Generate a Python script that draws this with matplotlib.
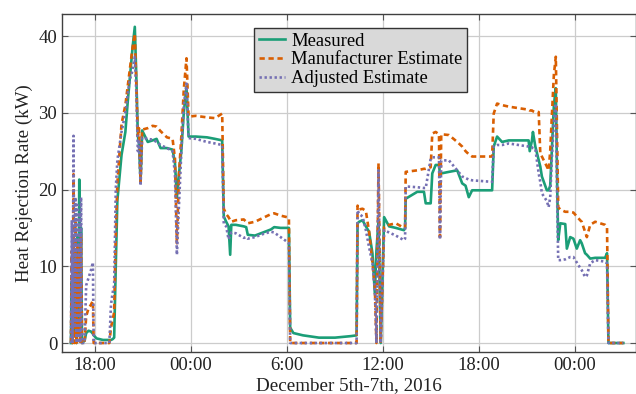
import numpy as np
import matplotlib
matplotlib.use('Agg')
import matplotlib.pyplot as plt

plt.rcParams['font.family'] = ['Liberation Serif', 'DejaVu Serif']

# hours counted from Dec 5th 00:00
hours = [
    16.50, 16.55, 16.60, 16.66, 16.72, 16.78, 16.84, 16.90, 16.96, 17.02,
    17.07, 17.13, 17.19, 17.35, 17.45, 17.60, 17.75, 17.87, 17.92, 18.10,
    18.50, 18.90, 19.00, 19.10, 19.20, 19.30, 19.40,
    19.66, 19.90, 20.05, 20.20, 20.35, 20.49, 20.58, 20.68, 20.75, 20.85,
    20.95, 21.30, 21.60, 21.85, 22.10, 22.50, 22.85, 23.00, 23.12, 23.25,
    23.40, 23.55, 23.72, 23.85, 24.30, 25.00, 25.50, 25.95, 26.05,
    26.20, 26.35, 26.45, 26.52, 26.80, 27.30, 27.45, 27.55, 28.00, 28.50,
    29.00, 29.20, 29.60, 30.00, 30.12, 30.20, 30.40,
    31.00, 32.00, 33.00, 34.00, 34.35, 34.41,
    34.51, 34.72, 34.93, 35.13, 35.34, 35.49, 35.59, 35.72, 35.86, 36.07,
    36.38, 36.80, 37.31, 37.38,
    37.42, 38.14, 38.56, 38.67, 38.98, 39.08, 39.29, 39.50, 39.56, 39.64,
    40.12, 40.64, 40.95, 41.16, 41.36, 41.57, 42.82, 42.92, 43.13, 43.44,
    43.86, 45.10, 45.17, 45.31, 45.37, 45.52, 45.73, 45.83, 45.93, 46.24, 46.35,
    46.45, 46.55, 46.68, 46.80, 46.89, 46.95, 47.08, 47.39, 47.49, 47.70,
    47.90, 48.11, 48.32, 48.42, 48.63, 48.74, 48.95, 49.26, 49.88, 50.00,
    50.09, 51.02,
]

measured = [
    0, 8, 0, 13, 1, 11, 0, 14, 2, 21.3,
    6, 15, 0, 0.3, 1.3, 1.6, 1.5, 1.2, 1.0, 0.6,
    0.4, 0.4, 0.4, 0.5, 0.7, 10, 18.6,
    24.5, 27.5, 31.5, 35, 38.5, 41.2, 35, 27, 26, 21.0,
    27.7, 26.2, 26.4, 26.6, 25.4, 25.4, 25.2, 23.4, 19.0, 22,
    25.1, 30, 33.4, 26.9, 26.9, 26.8, 26.6, 26.4, 16.5,
    15.8, 15.2, 11.5, 15.4, 15.4, 15.2, 15.1, 14.1, 14.0, 14.4,
    14.8, 15.1, 15.0, 15.0, 15.0, 2.0, 1.3,
    1.0, 0.7, 0.7, 0.9, 1.0, 15.6,
    15.8, 16.0, 15.2, 14.5, 11.7, 6.5, 12, 16, 0, 16.4,
    15.2, 15.0, 14.7, 15.0,
    18.8, 19.7, 19.7, 18.2, 18.2, 22.1, 23.2, 23.2, 22.0, 22.1,
    22.3, 22.5, 20.8, 20.5, 19.0, 19.9, 19.9, 25.6, 26.9, 26.2,
    26.4, 26.4, 25.0, 26.4, 27.5, 25.6, 23.8, 23.0, 21.7, 19.9, 19.9,
    20.5, 25, 31, 33.2, 20, 13.4, 15.6, 15.5, 12.3, 13.8,
    13.6, 12.3, 13.4, 13.0, 11.7, 11.5, 11.0, 11.1, 11.1, 11.7,
    0, 0,
]

manufacturer = [
    0, 12, 0, 22, 0, 16, 0, 13, 1, 12,
    0, 14, 0, 0, 3.5, 4.5, 5.0, 5.5, 0, 0,
    0, 0, 2, 3, 4, 14, 20.8,
    28.5, 31, 33.5, 36, 38.5, 40.3, 34, 27, 28, 21,
    27.8, 28.0, 28.3, 28.2, 27.6, 26.8, 26.6, 24, 13, 22,
    27, 33, 37.1, 29.5, 29.6, 29.4, 29.3, 29.9, 17.5,
    16.8, 16.4, 16.0, 15.8, 16.0, 16.1, 15.8, 15.6, 15.8, 16.3,
    16.8, 16.9, 16.6, 16.4, 16.3, 0, 0,
    0, 0, 0, 0, 0, 17.9,
    17.4, 17.5, 17.2, 14.5, 10.5, 7.3, 0, 23.4, 0, 15.1,
    15.4, 15.6, 15.0, 15.0,
    22.3, 22.5, 22.7, 22.7, 22.9, 27.3, 27.5, 27.2, 13.8, 27.2,
    27.1, 26.2, 25.6, 25.0, 24.6, 24.3, 24.3, 29.9, 31.2, 31.0,
    30.8, 30.4, 30.3, 30.3, 30.2, 30.1, 30.1, 24.7, 24.3, 23.0, 22.5,
    25, 29.5, 35, 37.3, 25, 17.7, 17.4, 17.1, 17.1, 17.1,
    17.0, 16.5, 16.0, 15.8, 14.5, 13.8, 15.4, 15.8, 15.4, 15.1,
    0, 0,
]

adjusted = [
    0, 16, 0, 27, 2, 19, 0, 18, 0, 17,
    0, 19, 0, 0, 7.5, 8.5, 9.5, 10.5, 0, 0,
    0, 0, 5, 6.5, 7.5, 20, 23.8,
    27.5, 30, 32.5, 34.5, 35.5, 37.3, 33, 25, 26.5, 20.5,
    26.8, 26.6, 26.5, 26.2, 25.8, 25.4, 25.0, 22, 11.5, 18,
    25, 31, 33.8, 26.7, 26.6, 26.2, 26.0, 25.8, 15.5,
    15.2, 13.5, 14.0, 14.4, 14.3, 13.7, 13.8, 13.6, 13.8, 14.2,
    14.5, 14.4, 13.8, 13.2, 13.0, 0, 0,
    0, 0, 0, 0, 0, 17.3,
    16.8, 16.5, 14.7, 12.5, 10.4, 6.9, 0, 22.5, 0, 14.7,
    14.4, 14.0, 13.4, 13.6,
    20.4, 20.3, 20.2, 20.2, 24.0, 24.2, 24.2, 24.2, 13.5, 23.8,
    23.8, 22.5, 21.7, 21.5, 21.3, 21.2, 21.0, 25.6, 25.8, 25.8,
    26.0, 25.6, 25.5, 25.5, 25.4, 25.3, 22.1, 21.0, 19.5, 18.5, 17.7,
    19, 24, 29, 31.2, 18, 10.8, 10.8, 10.9, 11.0, 11.2,
    11.2, 10.5, 9.8, 9.5, 8.6, 8.8, 10.4, 10.8, 10.6, 10.4,
    0, 0,
]

tick_hours = [18, 24, 30, 36, 42, 48]
tick_labels = ['18:00', '00:00', '6:00', '12:00', '18:00', '00:00']

fig = plt.figure(figsize=(6.36, 3.94), dpi=100)
ax = fig.add_axes([62 / 636, 1 - 352 / 394, (635.5 - 62) / 636, (352 - 14) / 394])

ax.plot(hours, measured, color='#1b9e77', lw=1.9, label='Measured', zorder=3)
ax.plot(hours, manufacturer, color='#d95f02', lw=1.9, ls=(0, (2.0, 1.4)),
        label='Manufacturer Estimate', zorder=3)
ax.plot(hours, adjusted, color='#7570b3', lw=1.9, ls=(0, (0.9, 1.0)),
        label='Adjusted Estimate', zorder=3)

ax.set_xlim(15.94, 51.78)
ax.set_ylim(-1.17, 42.87)
ax.set_xticks(tick_hours)
ax.set_xticklabels(tick_labels)
ax.set_yticks([0, 10, 20, 30, 40])

ax.grid(True, color='#cccccc', lw=0.9, zorder=0)
ax.tick_params(direction='in', top=True, right=True, length=4, width=0.8,
               color='#555555', labelsize=13.5, labelcolor='#222222')
for s in ax.spines.values():
    s.set_color('#404040')
    s.set_linewidth(1.0)

ax.set_xlabel('December 5th-7th, 2016', fontsize=13.7, color='#222222', labelpad=2)
ax.set_ylabel('Heat Rejection Rate (kW)', fontsize=13.7, color='#222222', labelpad=4)

leg = ax.legend(loc='upper left', bbox_to_anchor=(0.335, 0.959), borderaxespad=0,
                fontsize=13.4, fancybox=False, framealpha=1, facecolor='#d9d9d9',
                edgecolor='#333333', handlelength=1.4, handletextpad=0.35,
                borderpad=0.25, labelspacing=0.1)
leg.get_frame().set_linewidth(1.0)

fig.savefig('out.png', dpi=100)
